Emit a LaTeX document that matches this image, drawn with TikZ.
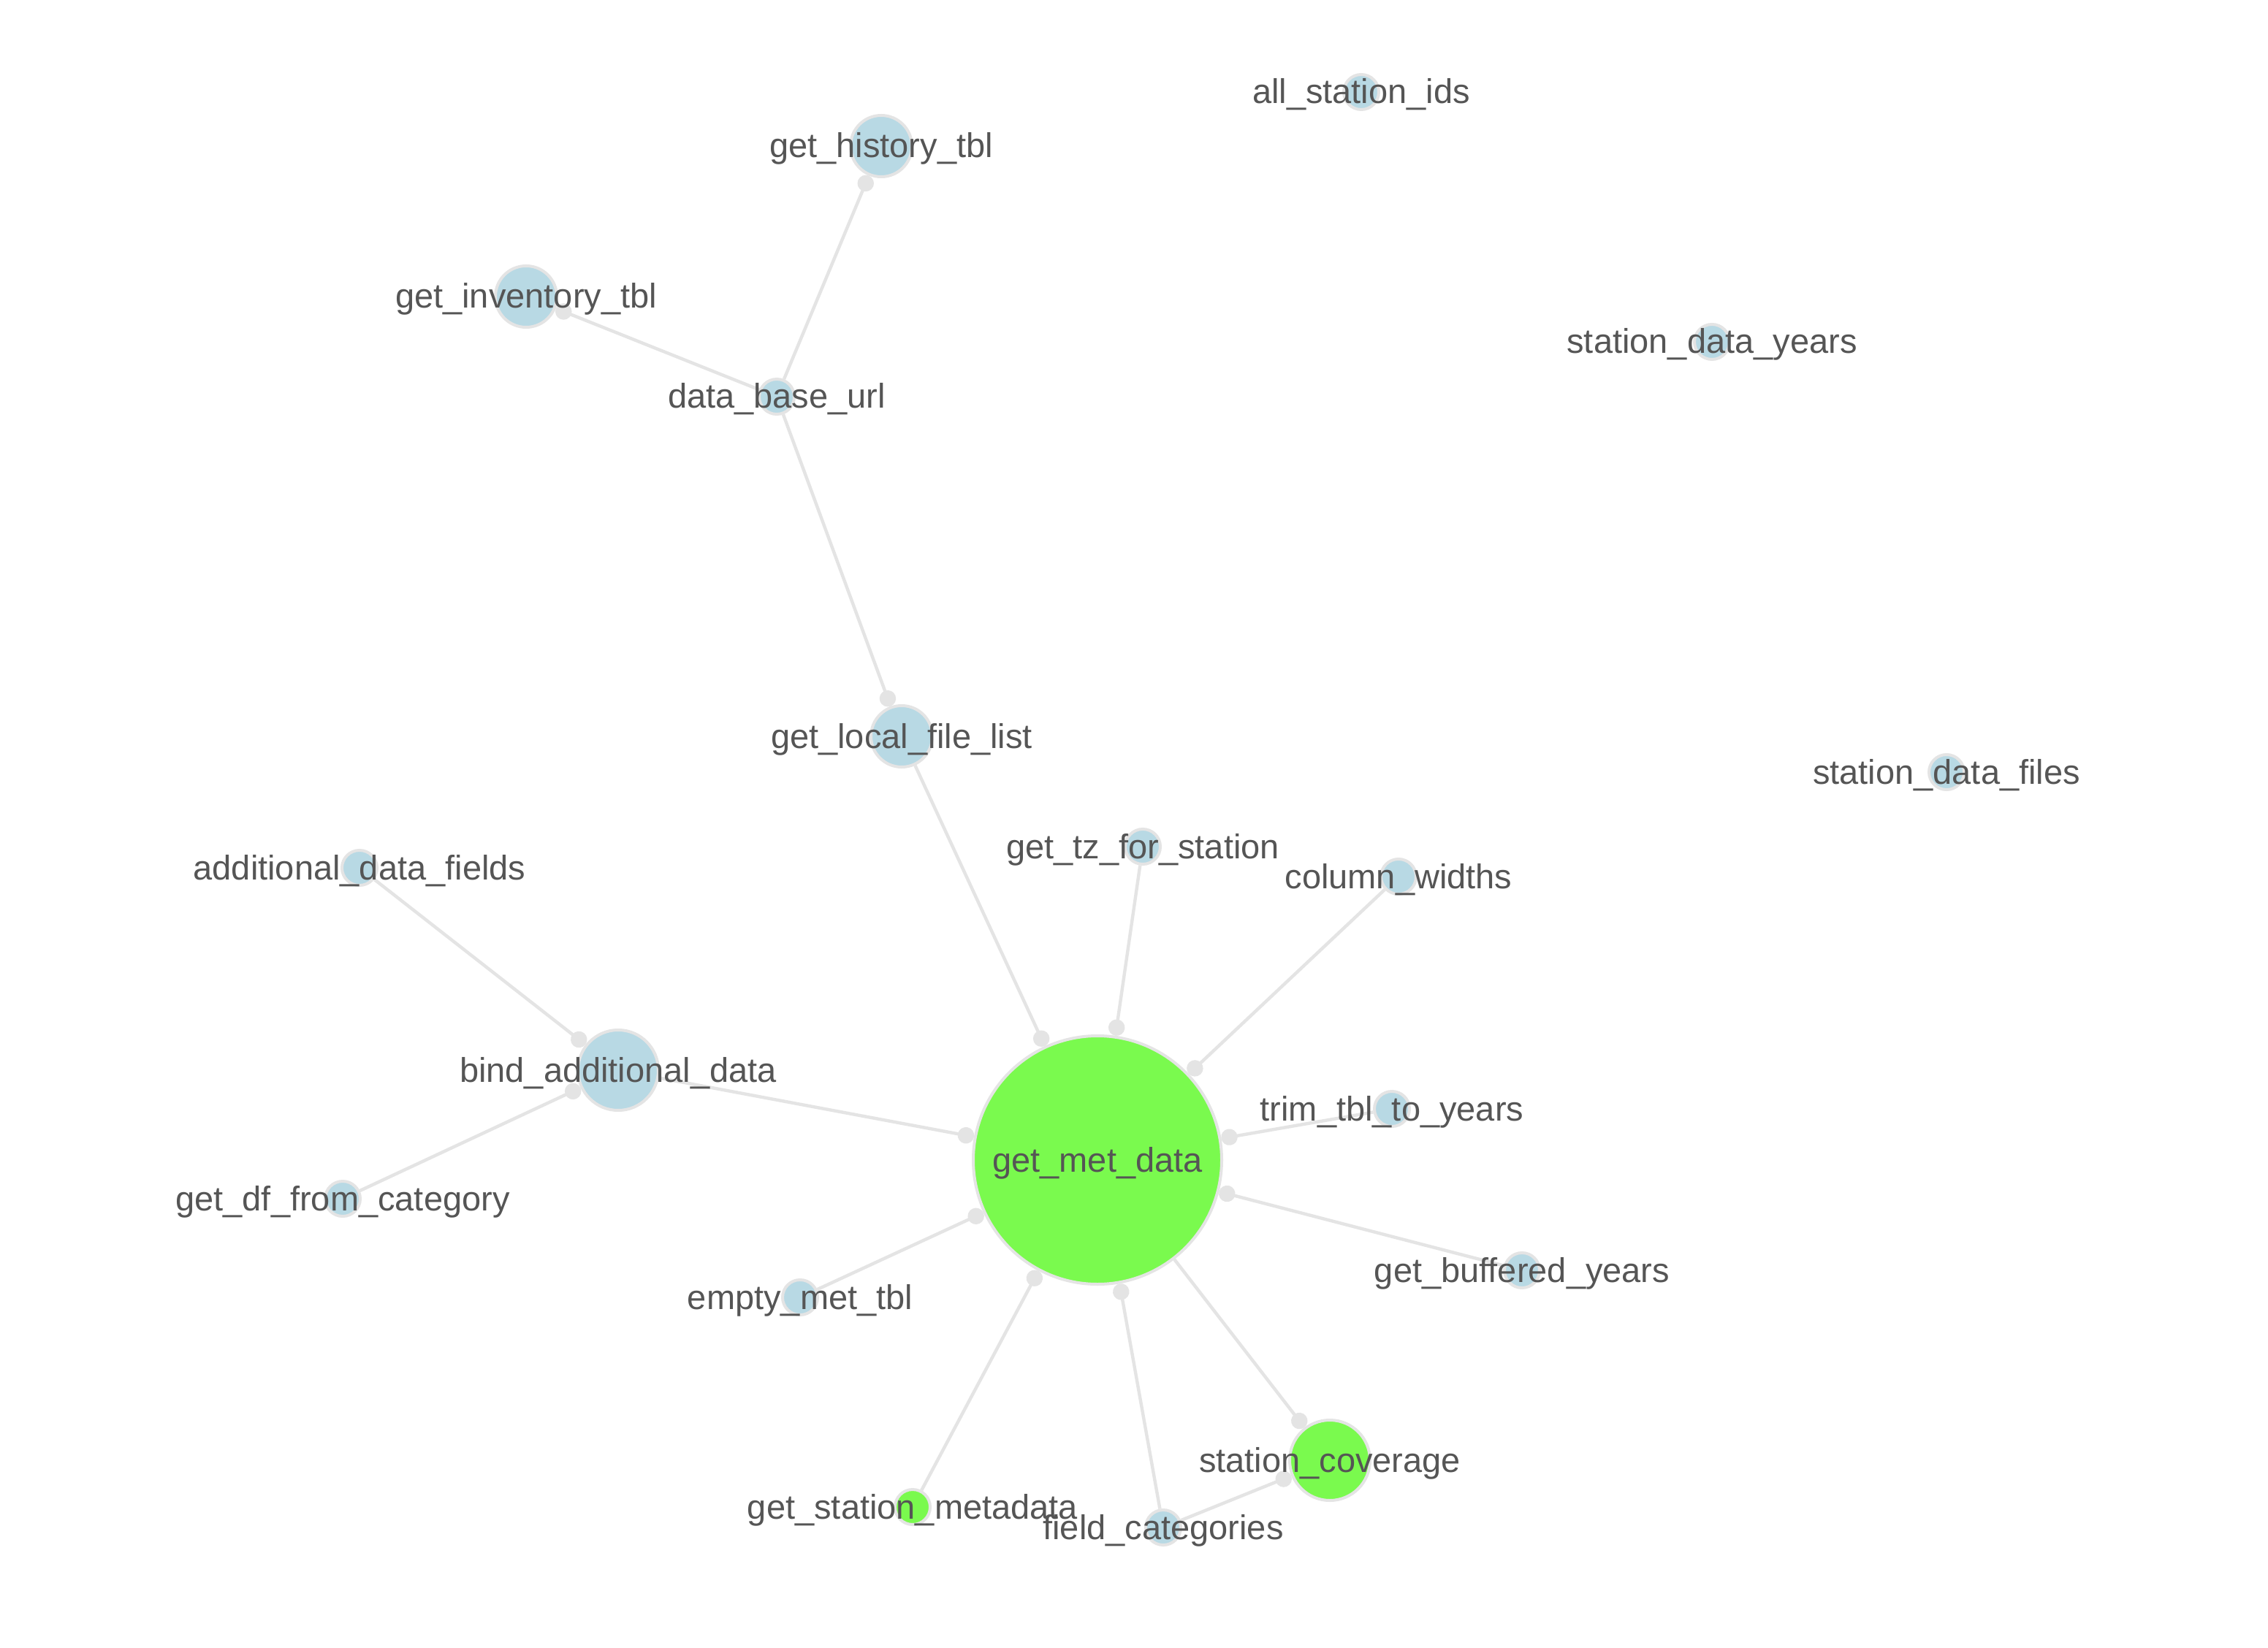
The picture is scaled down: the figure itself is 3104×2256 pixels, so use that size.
\documentclass[tikz,border=0pt]{standalone}
\usepackage{fontspec}
\setmainfont{Liberation Sans}
\usetikzlibrary{arrows.meta,backgrounds}
\definecolor{edgegray}{RGB}{228,228,228}
\definecolor{nodeblue}{RGB}{184,217,228}
\definecolor{nodegreen}{RGB}{122,250,78}
\definecolor{txtgray}{RGB}{85,85,85}
\tikzset{
  vn/.style={circle, draw=edgegray, line width=1pt, inner sep=0pt, outer sep=0.5pt, minimum size=#1},
  smallb/.style={vn=12pt, fill=nodeblue},
  medb/.style={vn=21pt, fill=nodeblue},
  lbl/.style={anchor=base, text=txtgray, inner sep=0pt, font=\fontsize{11.75pt}{14pt}\selectfont},
  link/.style={draw=edgegray, line width=1.1pt, -{Circle[length=5.6pt,width=5.6pt]}}
}
\begin{document}
\begin{tikzpicture}[x=0.25pt,y=-0.25pt]
\useasboundingbox (0,0) rectangle (3104,2256);
% nodes
\node[smallb] (asi) at (1863,126) {};
\node[medb] (ghist) at (1206,200) {};
\node[medb] (ginv) at (720,406) {};
\node[smallb] (dbu) at (1063,543) {};
\node[smallb] (sdy) at (2343,468) {};
\node[medb] (glfl) at (1234,1008) {};
\node[smallb] (sdf) at (2664,1057) {};
\node[smallb] (adf) at (492,1188) {};
\node[smallb] (gtz) at (1564,1159) {};
\node[smallb] (cw) at (1914,1200) {};
\node[vn=27.5pt, fill=nodeblue] (bad) at (846,1465) {};
\node[vn=85pt, fill=nodegreen] (gmd) at (1502,1588) {};
\node[smallb] (trim) at (1905,1518) {};
\node[smallb] (gdf) at (469,1641) {};
\node[smallb] (gby) at (2083,1739) {};
\node[smallb] (emt) at (1095,1776) {};
\node[vn=27.5pt, fill=nodegreen] (sc) at (1820,1999) {};
\node[vn=12pt, fill=nodegreen] (gsm) at (1249,2063) {};
\node[smallb] (fc) at (1592,2091) {};
% edges
\begin{pgfonlayer}{background}
\fill[white] (0,0) rectangle (3104,2256);
\draw[link] (dbu) -- (ghist);
\draw[link] (dbu) -- (ginv);
\draw[link] (dbu) -- (glfl);
\draw[link] (glfl) -- (gmd);
\draw[link] (gtz) -- (gmd);
\draw[link] (cw) -- (gmd);
\draw[link] (bad) -- (gmd);
\draw[link] (trim) -- (gmd);
\draw[link] (gby) -- (gmd);
\draw[link] (emt) -- (gmd);
\draw[link] (gsm) -- (gmd);
\draw[link] (fc) -- (gmd);
\draw[link] (gmd) -- (sc);
\draw[link] (fc) -- (sc);
\draw[link] (adf) -- (bad);
\draw[link] (gdf) -- (bad);
\end{pgfonlayer}
% labels
\node[lbl] (asi-t) at (1863,142) {all\_station\_ids};
\node[lbl] (ghist-t) at (1206,216) {get\_history\_tbl};
\node[lbl] (ginv-t) at (720,422) {get\_inventory\_tbl};
\node[lbl] (dbu-t) at (1063,559) {data\_base\_url};
\node[lbl] (sdy-t) at (2343,484) {station\_data\_years};
\node[lbl] (glfl-t) at (1234,1024) {get\_local\_file\_list};
\node[lbl] (sdf-t) at (2664,1073) {station\_data\_files};
\node[lbl] (adf-t) at (492,1204) {additional\_data\_fields};
\node[lbl] (gtz-t) at (1564,1175) {get\_tz\_for\_station};
\node[lbl] (cw-t) at (1914,1216) {column\_widths};
\node[lbl] (bad-t) at (846,1481) {bind\_additional\_data};
\node[lbl] (gmd-t) at (1502,1604) {get\_met\_data};
\node[lbl] (trim-t) at (1905,1534) {trim\_tbl\_to\_years};
\node[lbl] (gdf-t) at (469,1657) {get\_df\_from\_category};
\node[lbl] (gby-t) at (2083,1755) {get\_buffered\_years};
\node[lbl] (emt-t) at (1095,1792) {empty\_met\_tbl};
\node[lbl] (sc-t) at (1820,2015) {station\_coverage};
\node[lbl] (gsm-t) at (1249,2079) {get\_station\_metadata};
\node[lbl] (fc-t) at (1592,2107) {field\_categories};
\end{tikzpicture}
\end{document}
